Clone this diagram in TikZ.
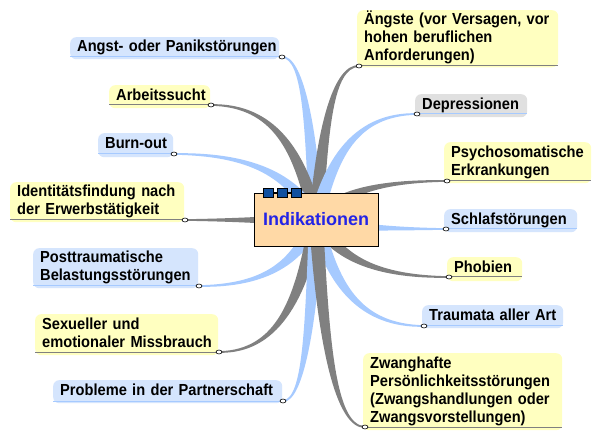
\documentclass[tikz,border=0pt]{standalone}
\usepackage{fontspec}
\setmainfont{Liberation Sans}
\newfontfamily\leaffont[FakeStretch=0.915]{Liberation Sans}
\usetikzlibrary{calc,shapes.geometric}
\pgfdeclarelayer{bg}
\pgfsetlayers{bg,main}
\definecolor{leafblue}{HTML}{D5E5FD}
\definecolor{leafyellow}{HTML}{FFFFC0}
\definecolor{leafgray}{HTML}{E0E0E0}
\definecolor{brblue}{HTML}{A6CAFF}
\definecolor{brgray}{HTML}{808080}
\definecolor{rootfill}{HTML}{FFD9A6}
\definecolor{roottext}{HTML}{2424E6}
\definecolor{sqfill}{HTML}{1050A0}
\tikzset{
  leaf/.style={rounded corners=6pt, draw=none, inner xsep=7pt, inner ysep=1pt,
    align=left, anchor=north west,
    font=\leaffont\fontsize{16}{18}\selectfont\bfseries,
    execute at begin node=\strut, execute at end node=\strut},
  lb/.style={leaf, fill=leafblue},
  ly/.style={leaf, fill=leafyellow},
  lg/.style={leaf, fill=leafgray},
  ulblue/.style={draw=brblue, line width=1pt},
  ulgray/.style={draw=brgray, line width=1pt},
  dotn/.style={ellipse, draw=black, fill=white, line width=0.6pt,
    minimum width=6pt, minimum height=4pt, inner sep=0pt},
  rootbox/.style={draw=black, line width=0.8pt, fill=rootfill,
    minimum width=124pt, minimum height=53pt, inner sep=0pt,
    font=\fontsize{18}{20}\selectfont\bfseries, text=roottext},
  sq/.style={draw=black, line width=0.6pt, fill=sqfill, minimum width=10pt,
    minimum height=9pt, inner sep=0pt}
}
\newcommand\branch[4]{%
  \fill[#1] ($(C)!7pt!90:#2$) .. controls ($#2!6pt!-90:(C)$) and ($#3!2pt!90:(#4.center)$) .. ($(#4.center)!0.8pt!-90:#3$)
    -- ($(#4.center)!0.8pt!90:#3$) .. controls ($#3!2pt!-90:(#4.center)$) and ($#2!6pt!90:(C)$) .. ($(C)!7pt!-90:#2$) -- cycle;}
\begin{document}
\begin{tikzpicture}[x=1pt,y=-1pt]
\useasboundingbox (0,0) rectangle (602,443);
\coordinate (C) at (316,220);
% leaf nodes, left side
\node[lb, minimum width=209pt, minimum height=22pt, text width=195pt] (n1) at (70,37) {\mbox{Angst- oder Panikstörungen}};
\node[ly, minimum width=101pt, minimum height=23pt, text width=87pt] (n2) at (109,85) {\mbox{Arbeitssucht}};
\node[lb, minimum width=75pt, minimum height=24pt, text width=61pt] (n3) at (98,133) {\mbox{Burn-out}};
\node[ly, minimum width=174pt, minimum height=40pt, text width=160pt] (n4) at (10,182) {\mbox{Identitätsfindung nach}\\\mbox{der Erwerbstätigkeit}};
\node[lb, minimum width=165pt, minimum height=40pt, text width=151pt] (n5) at (33,248) {\mbox{Posttraumatische}\\\mbox{Belastungsstörungen}};
\node[ly, minimum width=183pt, minimum height=41pt, text width=169pt] (n6) at (35,314) {\mbox{Sexueller und}\\\mbox{emotionaler Missbrauch}};
\node[lb, minimum width=229pt, minimum height=23pt, text width=215pt] (n7) at (53,380) {\mbox{Probleme in der Partnerschaft}};
% leaf nodes, right side
\node[ly, minimum width=201pt, minimum height=57pt, text width=187pt] (n8) at (357,10) {\mbox{Ängste (vor Versagen, vor}\\\mbox{hohen beruflichen}\\\mbox{Anforderungen)}};
\node[lg, minimum width=112pt, minimum height=23pt, text width=98pt] (n9) at (415,94) {\mbox{Depressionen}};
\node[ly, minimum width=147pt, minimum height=41pt, text width=133pt] (n10) at (444,142) {\mbox{Psychosomatische}\\\mbox{Erkrankungen}};
\node[lb, minimum width=133pt, minimum height=23pt, text width=119pt] (n11) at (444,209) {\mbox{Schlafstörungen}};
\node[ly, minimum width=75pt, minimum height=24pt, text width=61pt] (n12) at (447,257) {\mbox{Phobien}};
\node[lb, minimum width=141pt, minimum height=23pt, text width=127pt] (n13) at (422,305) {\mbox{Traumata aller Art}};
\node[ly, minimum width=199pt, minimum height=77pt, text width=185pt] (n14) at (363,353) {\mbox{Zwanghafte}\\\mbox{Persönlichkeitsstörungen}\\\mbox{(Zwangshandlungen oder}\\\mbox{Zwangsvorstellungen)}};
% underlines
\coordinate (p1) at (282,57);  \draw[ulblue] (p1) -- (p1 -| n1.west);
\coordinate (p2) at (211,105); \draw[ulgray] (p2) -- (p2 -| n2.west);
\coordinate (p3) at (174,154); \draw[ulblue] (p3) -- (p3 -| n3.west);
\coordinate (p4) at (185,220); \draw[ulgray] (p4) -- (p4 -| n4.west);
\coordinate (p5) at (199,286); \draw[ulblue] (p5) -- (p5 -| n5.west);
\coordinate (p6) at (219,352); \draw[ulgray] (p6) -- (p6 -| n6.west);
\coordinate (p7) at (283,401); \draw[ulblue] (p7) -- (p7 -| n7.west);
\coordinate (p8) at (359,66);  \draw[ulgray] (p8) -- (p8 -| n8.east);
\coordinate (p9) at (417,114); \draw[ulblue] (p9) -- (p9 -| n9.east);
\coordinate (p10) at (447,181); \draw[ulgray] (p10) -- (p10 -| n10.east);
\coordinate (p11) at (446,229); \draw[ulblue] (p11) -- (p11 -| n11.east);
\coordinate (p12) at (449,277); \draw[ulgray] (p12) -- (p12 -| n12.east);
\coordinate (p13) at (424,326); \draw[ulblue] (p13) -- (p13 -| n13.east);
\coordinate (p14) at (365,427); \draw[ulgray] (p14) -- (p14 -| n14.east);
% dots
\foreach \i in {1,...,14} { \node[dotn] (d\i) at (p\i) {}; }
% root
\node[rootbox] (root) at (316,219.5) {Indikationen};
\node[sq] (s1) at (268,192.5) {};
\node[sq] (s2) at (282,192.5) {};
\node[sq] (s3) at (296,192.5) {};
\draw[line width=0.6pt] (s1) -- (s2) (s2) -- (s3);
% branches
\begin{pgfonlayer}{bg}
\fill[white] (0,0) rectangle (602,443);
\branch{brblue}{(310.9,122.2)}{(302.4,57)}{d1}
\branch{brgray}{(300.25,151)}{(274,105)}{d2}
\branch{brblue}{(294.7,180.4)}{(259.2,154)}{d3}
\branch{brgray}{(296.4,220)}{(263.6,220)}{d4}
\branch{brblue}{(298.5,259.6)}{(269.2,286)}{d5}
\branch{brgray}{(301.5,299.2)}{(277.2,352)}{d6}
\branch{brblue}{(311,328.6)}{(302.8,401)}{d7}
\branch{brgray}{(322.5,127.6)}{(333.2,66)}{d8}
\branch{brblue}{(331.2,156.4)}{(356.4,114)}{d9}
\branch{brgray}{(335.7,196.6)}{(368.4,181)}{d10}
\branch{brblue}{(335.5,225.4)}{(368,229)}{d11}
\branch{brgray}{(336,254.2)}{(369.2,277)}{d12}
\branch{brblue}{(332.2,283.6)}{(359.2,326)}{d13}
\branch{brgray}{(323.4,344.2)}{(335.6,427)}{d14}
\end{pgfonlayer}
\end{tikzpicture}
\end{document}
